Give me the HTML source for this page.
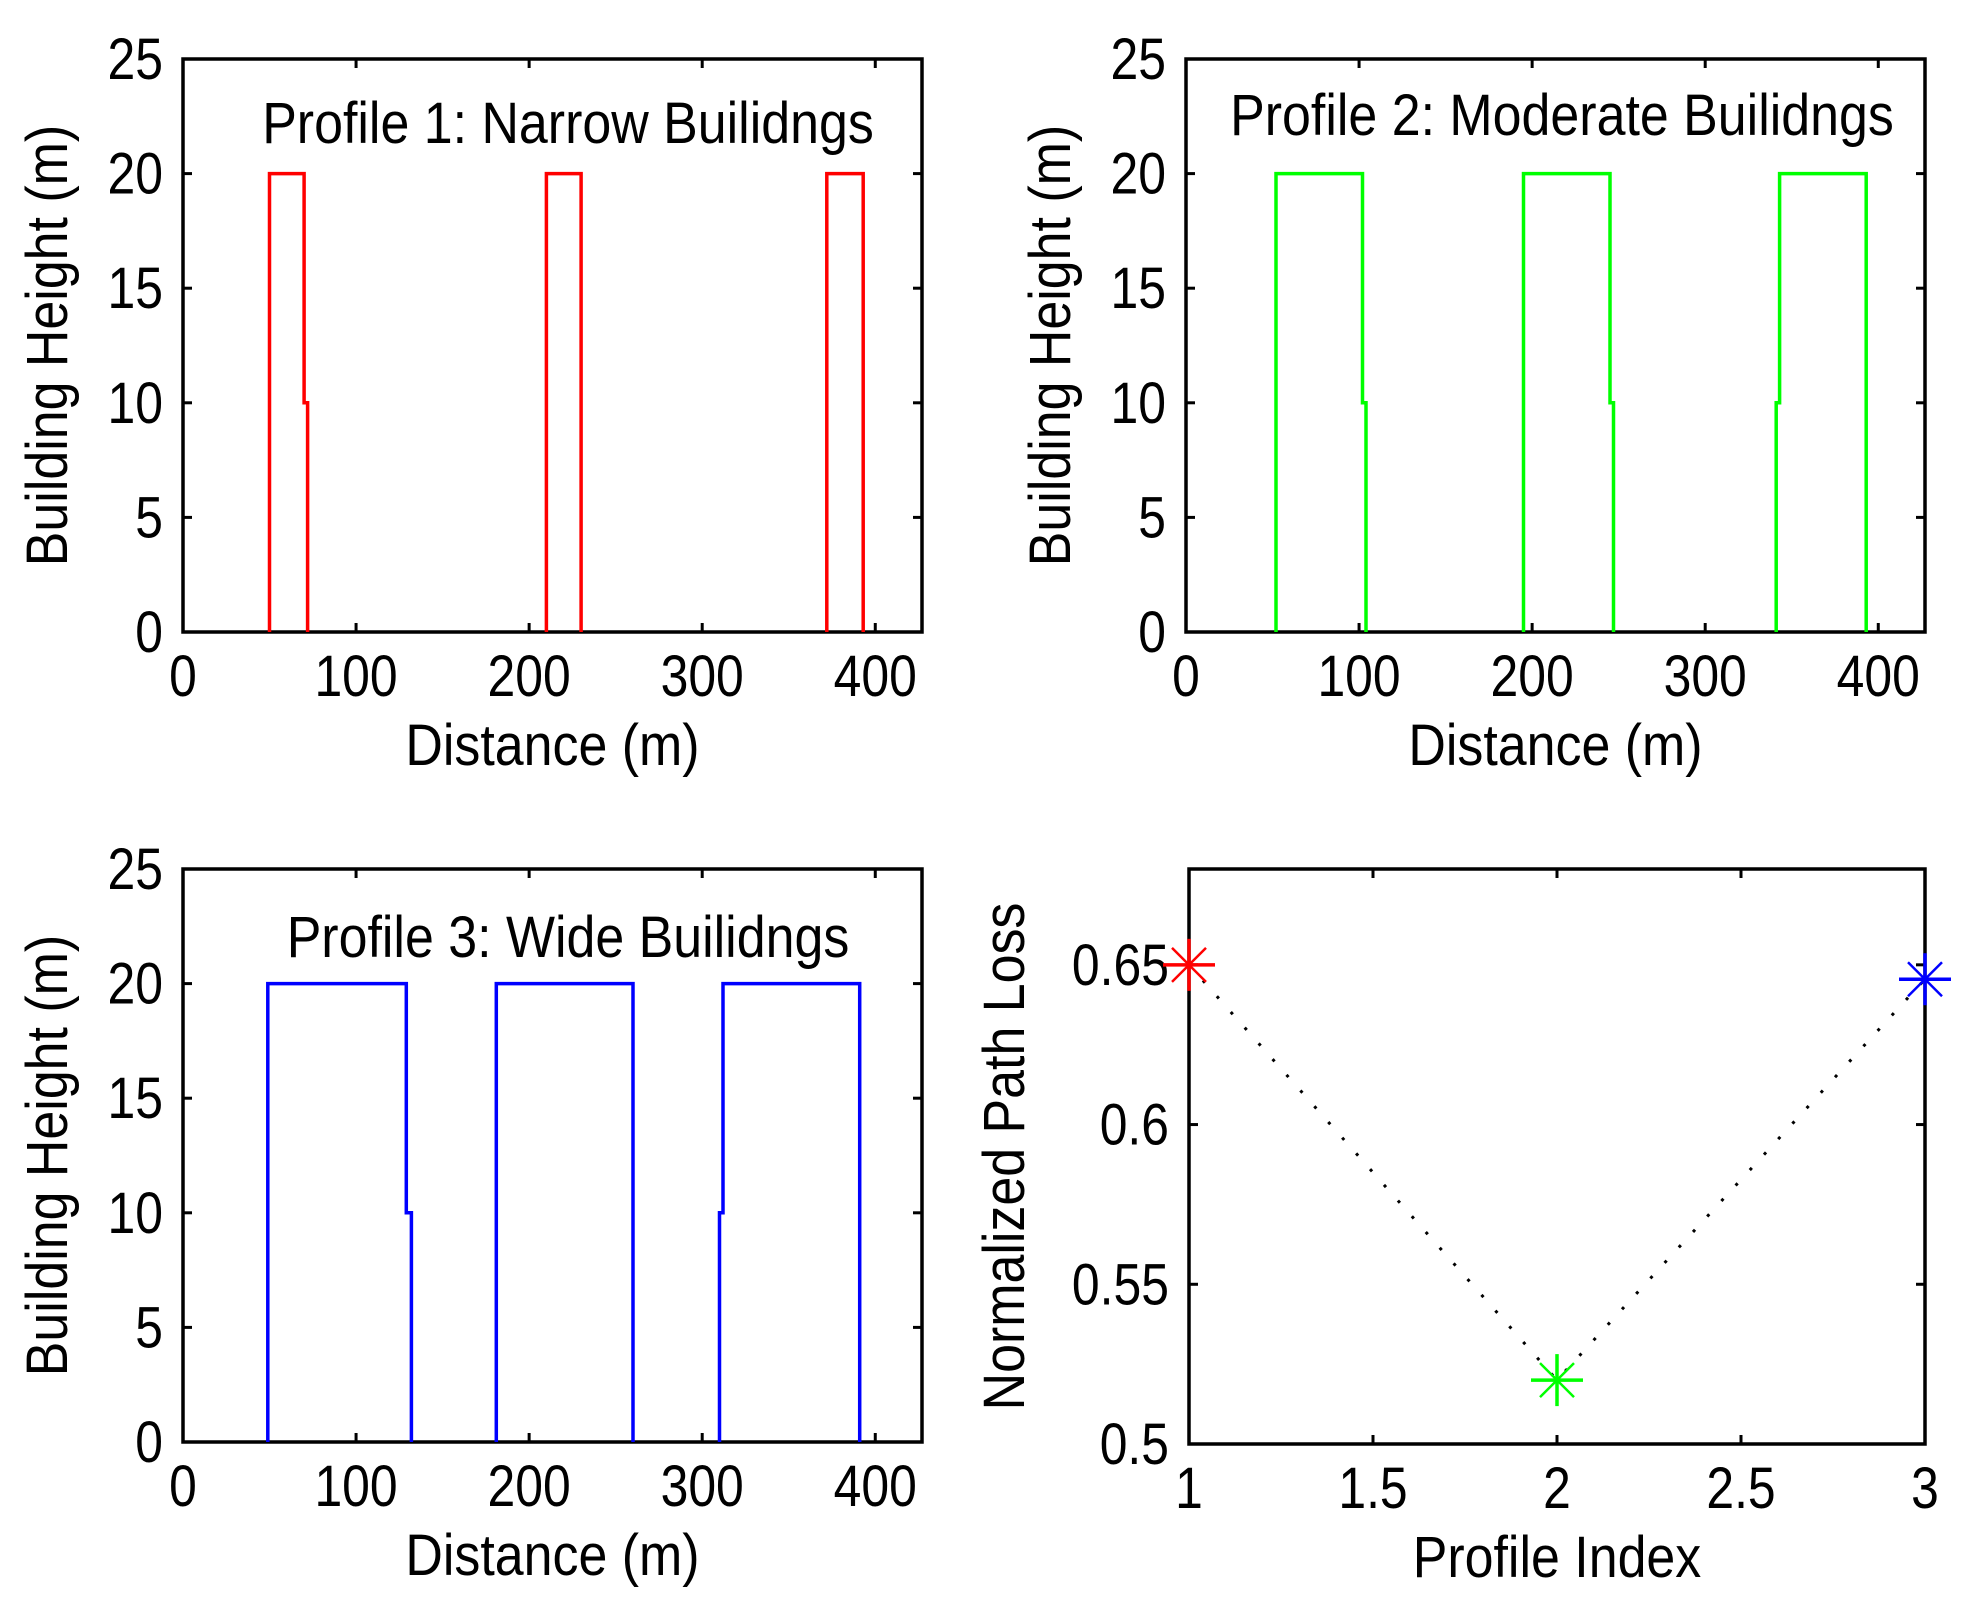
<!DOCTYPE html>
<html><head><meta charset="utf-8">
<style>
html,body{margin:0;padding:0;background:#fff;}
svg{display:block;}
text{font-family:"Liberation Sans",sans-serif;fill:#000;}
</style></head>
<body>
<svg id="fig" width="1975" height="1599" viewBox="0 0 1975 1599" xmlns="http://www.w3.org/2000/svg"></svg>
<script>
// Profile 1 building outlines (distance m, height m)
const p1X = [[50,50,70,70,72,72],[210,210,230,230],[372,372,393,393]];
const p1Y = [[0,20,20,10,10,0],[0,20,20,0],[0,20,20,0]];
// Profile 2
const p2X = [[52,52,102,102,104,104],[195,195,245,245,247,247],[341,341,343,343,393,393]];
const p2Y = [[0,20,20,10,10,0],[0,20,20,10,10,0],[0,10,10,20,20,0]];
// Profile 3
const p3X = [[49,49,129,129,132,132],[181,181,260,260],[310,310,312,312,391,391]];
const p3Y = [[0,20,20,10,10,0],[0,20,20,0],[0,10,10,20,20,0]];
// Path loss
const plIndex = [1,2,3];
const plValues = [0.65,0.52,0.6455];
const plColors = ['#ff0000','#00ff00','#0000ff'];
const heightTicks = [0,5,10,15,20,25];
const distTicks = [0,100,200,300,400];
const idxTicks = [1,1.5,2,2.5,3];
const idxTickLabels = ['1','1.5','2','2.5','3'];
const lossTicks = [0.5,0.55,0.6,0.65];
const lossTickLabels = ['0.5','0.55','0.6','0.65'];

const NS='http://www.w3.org/2000/svg';
const svg=document.getElementById('fig');
const cv=document.createElement('canvas').getContext('2d');
const FS=58;
function el(tag,attrs,parent){const e=document.createElementNS(NS,tag);for(const k in attrs)e.setAttribute(k,attrs[k]);(parent||svg).appendChild(e);return e;}
function txt(str,x,y,anchor,g,rot,sq){
  cv.font=FS+'px "Liberation Sans"';
  const w=cv.measureText(str).width*(sq||0.895);
  const t=el('text',{x:x,y:y,'font-size':FS,'text-anchor':anchor,textLength:w.toFixed(1),lengthAdjust:'spacingAndGlyphs'},g);
  if(rot)t.setAttribute('transform','rotate(-90 '+x+' '+y+')');
  t.textContent=str;return t;
}
function axes(name,L,T,R,B,xmin,xmax,ymin,ymax,xt,xtl,yt,ytl,xlabel,ylabel,ylabelX){
  const g=el('g',{});
  
  
  const sx=v=>L+(v-xmin)/(xmax-xmin)*(R-L);
  const sy=v=>B-(v-ymin)/(ymax-ymin)*(B-T);
  const box=el('rect',{x:L,y:T,width:R-L,height:B-T,fill:'none',stroke:'#000','stroke-width':3.5},g);
  
  
  xt.forEach((v,i)=>{const x=sx(v);
    el('line',{x1:x,y1:B,x2:x,y2:B-9,stroke:'#000','stroke-width':3},g);
    el('line',{x1:x,y1:T,x2:x,y2:T+9,stroke:'#000','stroke-width':3},g);
    const t=txt(xtl[i],x,B+64,'middle',g,false,0.86);
    
    });
  yt.forEach((v,i)=>{const y=sy(v);
    el('line',{x1:L,y1:y,x2:L+9,y2:y,stroke:'#000','stroke-width':3},g);
    el('line',{x1:R,y1:y,x2:R-9,y2:y,stroke:'#000','stroke-width':3},g);
    const t=txt(ytl[i],L-20,y+20,'end',g,false,0.86);
    
    });
  const xl=txt(xlabel,(L+R)/2,B+133,'middle',g);
  
  
  const yl=txt(ylabel,ylabelX,(T+B)/2,'middle',g,true);
  
  
  return {g,sx,sy};
}
function profile(name,L,T,R,B,xs,ys,color,title,tx,ty){
  const a=axes(name,L,T,R,B,0,427,0,25,distTicks,distTicks.map(String),heightTicks,heightTicks.map(String),'Distance (m)','Building Height (m)',L-116);
  xs.forEach((bx,i)=>{
    const pts=bx.map((x,j)=>a.sx(x).toFixed(1)+','+a.sy(ys[i][j]).toFixed(1)).join(' ');
    const p=el('polyline',{points:pts,fill:'none',stroke:color,'stroke-width':3.5},a.g);
    
    
  });
  const t=txt(title,tx,ty,'middle',a.g);
  
  
}
profile('profile-1-axes',183,59,922,632,p1X,p1Y,'#ff0000','Profile 1: Narrow Builidngs',568,143);
profile('profile-2-axes',1186,59,1925,632,p2X,p2Y,'#00ff00','Profile 2: Moderate Builidngs',1562,135);
profile('profile-3-axes',183,869,922,1442,p3X,p3Y,'#0000ff','Profile 3: Wide Builidngs',568,957);

const a4=axes('path-loss-axes',1189,869,1925,1444,1,3,0.5,0.68,idxTicks,idxTickLabels,lossTicks,lossTickLabels,'Profile Index','Normalized Path Loss',1024);
const pts=plIndex.map((v,i)=>a4.sx(v).toFixed(1)+','+a4.sy(plValues[i]).toFixed(1)).join(' ');
const dl=el('polyline',{points:pts,fill:'none',stroke:'#000','stroke-width':3,'stroke-dasharray':'3 18'},a4.g);


plIndex.forEach((v,i)=>{
  const x=a4.sx(v),y=a4.sy(plValues[i]),r=26,d=17;
  const m=el('g',{stroke:plColors[i],'stroke-width':3.5},a4.g);
  
  
  el('line',{x1:x-r,y1:y,x2:x+r,y2:y},m);
  el('line',{x1:x,y1:y-r,x2:x,y2:y+r},m);
  el('line',{x1:x-d,y1:y-d,x2:x+d,y2:y+d,'stroke-width':2.5},m);
  el('line',{x1:x-d,y1:y+d,x2:x+d,y2:y-d,'stroke-width':2.5},m);
});
</script>
</body></html>
